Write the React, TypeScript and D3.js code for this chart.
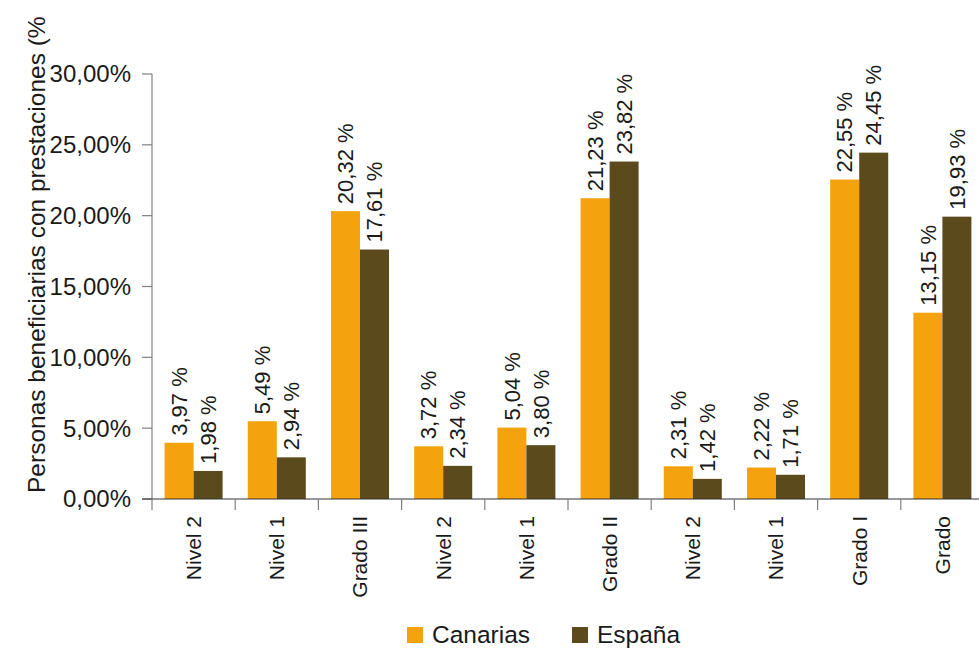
import React from "react";
import * as d3 from "d3";

const categories = ["Nivel 2", "Nivel 1", "Grado III", "Nivel 2", "Nivel 1", "Grado II", "Nivel 2", "Nivel 1", "Grado I", "Grado"];
const canarias = [3.97, 5.49, 20.32, 3.72, 5.04, 21.23, 2.31, 2.22, 22.55, 13.15];
const espana = [1.98, 2.94, 17.61, 2.34, 3.8, 23.82, 1.42, 1.71, 24.45, 19.93];
const seriesNames = ["Canarias", "España"];
const seriesColors = ["#f4a20d", "#5b4a1b"];
const yTicks = [0, 5, 10, 15, 20, 25, 30];
const yTitle = "Personas beneficiarias con prestaciones (%)";

const W = 979;
const H = 648;
const FONT = "'Liberation Sans', Arial, sans-serif";

function fmtTick(v: number) {
  return v.toFixed(2).replace(".", ",") + "%";
}
function fmtLabel(v: number) {
  return v.toFixed(2).replace(".", ",") + " %";
}

export default function App() {
  const left = 152;
  const band = 83.2;
  const idx = categories.map((_, i) => String(i));
  const x = d3.scaleBand<string>().domain(idx).range([left, left + band * categories.length]).paddingInner(0).paddingOuter(0);
  const xs = d3.scaleBand<string>().domain(seriesNames).range([0, x.bandwidth()]).paddingInner(0).paddingOuter(0.434);
  const y = d3.scaleLinear().domain([0, 30]).range([499, 74]);
  const values = [canarias, espana];
  const boundaries = d3.range(categories.length + 1).map((i) => left + i * x.step());

  return (
    <svg width={W} height={H} style={{ position: "absolute", left: 0, top: 0, background: "#fff" }} fontFamily={FONT}>
      <defs>
        <clipPath id="titleClip">
          <rect x={0} y={16.5} width={80} height={H} />
        </clipPath>
      </defs>
      {/* y axis */}
      <line x1={left} x2={left} y1={y(30)} y2={y(0)} stroke="#7f7f7f" strokeWidth={1.2} />
      {yTicks.map((t) => (
        <g key={t}>
          <line x1={left - 10} x2={left} y1={y(t)} y2={y(t)} stroke="#7f7f7f" strokeWidth={1.2} />
          <text x={131} y={y(t)} dy="0.35em" textAnchor="end" fontSize={24} fill="#1a1a1a">
            {fmtTick(t)}
          </text>
        </g>
      ))}
      {/* bars */}
      {values.map((vals, s) =>
        vals.map((v, i) => (
          <rect
            key={s + "-" + i}
            x={(x(String(i)) as number) + (xs(seriesNames[s]) as number)}
            y={y(v)}
            width={xs.bandwidth()}
            height={y(0) - y(v)}
            fill={seriesColors[s]}
          />
        ))
      )}
      {/* x axis */}
      <line x1={left - 10} x2={W} y1={y(0)} y2={y(0)} stroke="#333" strokeWidth={1.2} />
      {boundaries.map((b, i) => (
        <line key={i} x1={b} x2={b} y1={y(0)} y2={y(0) + 11} stroke="#7f7f7f" strokeWidth={1.2} />
      ))}
      {/* data labels */}
      {values.map((vals, s) =>
        vals.map((v, i) => {
          const cx = (x(String(i)) as number) + (xs(seriesNames[s]) as number) + xs.bandwidth() / 2;
          const cy = y(v) - 7;
          return (
            <text
              key={"l" + s + "-" + i}
              transform={`translate(${cx},${cy}) rotate(-90)`}
              dy="0.35em"
              textAnchor="start"
              fontSize={22}
              fill="#1a1a1a"
            >
              {fmtLabel(v)}
            </text>
          );
        })
      )}
      {/* category labels */}
      {categories.map((c, i) => {
        const cx = (x(String(i)) as number) + x.bandwidth() / 2;
        return (
          <text key={"c" + i} transform={`translate(${cx},516) rotate(-90)`} dy="0.35em" textAnchor="end" fontSize={21} fill="#1a1a1a">
            {c}
          </text>
        );
      })}
      {/* y title */}
      <g clipPath="url(#titleClip)">
        <text transform={`translate(36,493) rotate(-90)`} dy="0.35em" textAnchor="start" fontSize={24.5} fill="#1a1a1a">
          {yTitle}
        </text>
      </g>
      {/* legend */}
      {seriesNames.map((n, s) => {
        const lx = [407, 572][s];
        return (
          <g key={n}>
            <rect x={lx} y={627} width={16} height={16} fill={seriesColors[s]} />
            <text x={lx + 25} y={643} fontSize={24.5} fill="#1a1a1a">
              {n}
            </text>
          </g>
        );
      })}
    </svg>
  );
}
